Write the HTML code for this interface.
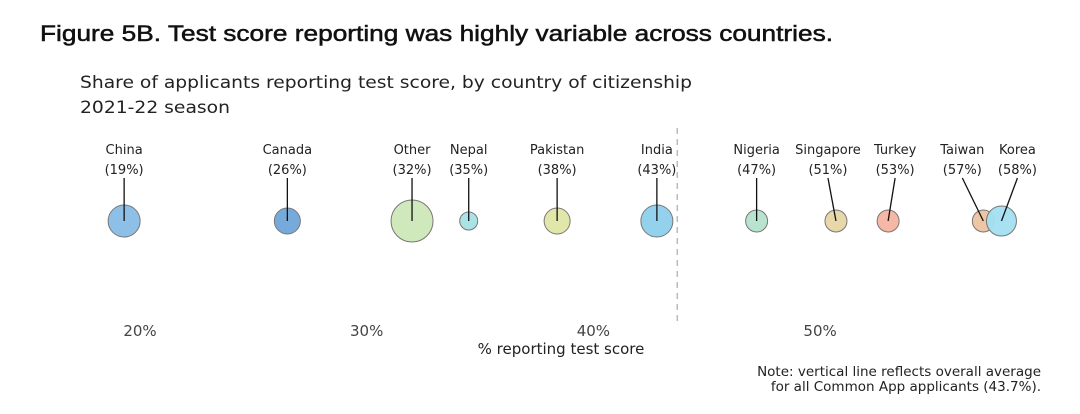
<!DOCTYPE html>
<html><head><meta charset="utf-8"><style>
body{margin:0;background:#fff;width:1080px;height:409px;overflow:hidden;font-family:"Liberation Sans","DejaVu Sans",sans-serif}
</style></head><body>
<svg width="1080" height="409" font-family="DejaVu Sans, Liberation Sans, sans-serif">
<text x="40" y="41" font-size="22" fill="#111" stroke="#111" stroke-width="0.5" font-family="Liberation Sans, sans-serif" textLength="793" lengthAdjust="spacingAndGlyphs">Figure 5B. Test score reporting was highly variable across countries.</text>
<text x="80" y="88" font-size="17" fill="#222" textLength="612" lengthAdjust="spacingAndGlyphs">Share of applicants reporting test score, by country of citizenship</text>
<text x="80" y="113" font-size="17" fill="#222" textLength="150" lengthAdjust="spacingAndGlyphs">2021-22 season</text>
<g id="ticks"></g>
<text x="561" y="354" font-size="15" fill="#222" text-anchor="middle">% reporting test score</text>
<line id="avg" y1="128" y2="325" stroke="#bbb" stroke-width="1.5" stroke-dasharray="6,5"/>
<g id="marks"></g>
<text x="1041" y="376" font-size="13.5" fill="#222" text-anchor="end">Note: vertical line reflects overall average</text>
<text x="1041" y="391" font-size="13.5" fill="#222" text-anchor="end">for all Common App applicants (43.7%).</text>
</svg>
<script>
const countries=["China","Canada","Other","Nepal","Pakistan","India","Nigeria","Singapore","Turkey","Taiwan","Korea"];
const values=[19.3,26.5,32,34.5,38.4,42.8,47.2,50.7,53,57.2,58];
const sizes=[16,13,21,9,13,16,11,11,11,11,15];
const labelPcts=["19%","26%","32%","35%","38%","43%","47%","51%","53%","57%","58%"];
const labelOffsets=[0,0,0,0,0,0,0,-8,7,-21,16];
const colors=["#88bde6","#6fa5d8","#cde8b8","#a6e0e4","#dfe6a4","#8ecfec","#b3e2cc","#e6d5a4","#f7b3a0","#ecc3a0","#a3dff0"];
const ticks=[20,30,40,50];
const average=43.7;
const ns="http://www.w3.org/2000/svg";
function x(v){return 140+(v-20)*22.67;}
const cy=221;
const tg=document.getElementById('ticks');
ticks.forEach(t=>{const e=document.createElementNS(ns,'text');e.setAttribute('x',x(t));e.setAttribute('y',336);e.setAttribute('font-size','15');e.setAttribute('fill','#444');e.setAttribute('text-anchor','middle');e.textContent=t+'%';


tg.appendChild(e);});
const av=document.getElementById('avg');av.setAttribute('x1',x(average));av.setAttribute('x2',x(average));
const mg=document.getElementById('marks');
countries.forEach((c,i)=>{
const cx=x(values[i]);
const circ=document.createElementNS(ns,'circle');circ.setAttribute('cx',cx);circ.setAttribute('cy',cy);circ.setAttribute('r',sizes[i]);circ.setAttribute('fill',colors[i]);circ.setAttribute('stroke','#777');circ.setAttribute('stroke-width','1');circ.setAttribute('fill-opacity','0.95');


mg.appendChild(circ);});
countries.forEach((c,i)=>{
const cx=x(values[i]);const lx=cx+labelOffsets[i];
const ln=document.createElementNS(ns,'line');ln.setAttribute('x1',lx);ln.setAttribute('y1',178);ln.setAttribute('x2',cx);ln.setAttribute('y2',cy);ln.setAttribute('stroke','#111');ln.setAttribute('stroke-width','1.3');


mg.appendChild(ln);
const t1=document.createElementNS(ns,'text');t1.setAttribute('x',lx);t1.setAttribute('y',154);t1.setAttribute('font-size','13');t1.setAttribute('fill','#222');t1.setAttribute('text-anchor','middle');t1.textContent=c;


mg.appendChild(t1);
const t2=document.createElementNS(ns,'text');t2.setAttribute('x',lx);t2.setAttribute('y',174);t2.setAttribute('font-size','13');t2.setAttribute('fill','#222');t2.setAttribute('text-anchor','middle');t2.textContent='('+labelPcts[i]+')';


mg.appendChild(t2);});
</script>
</body></html>
